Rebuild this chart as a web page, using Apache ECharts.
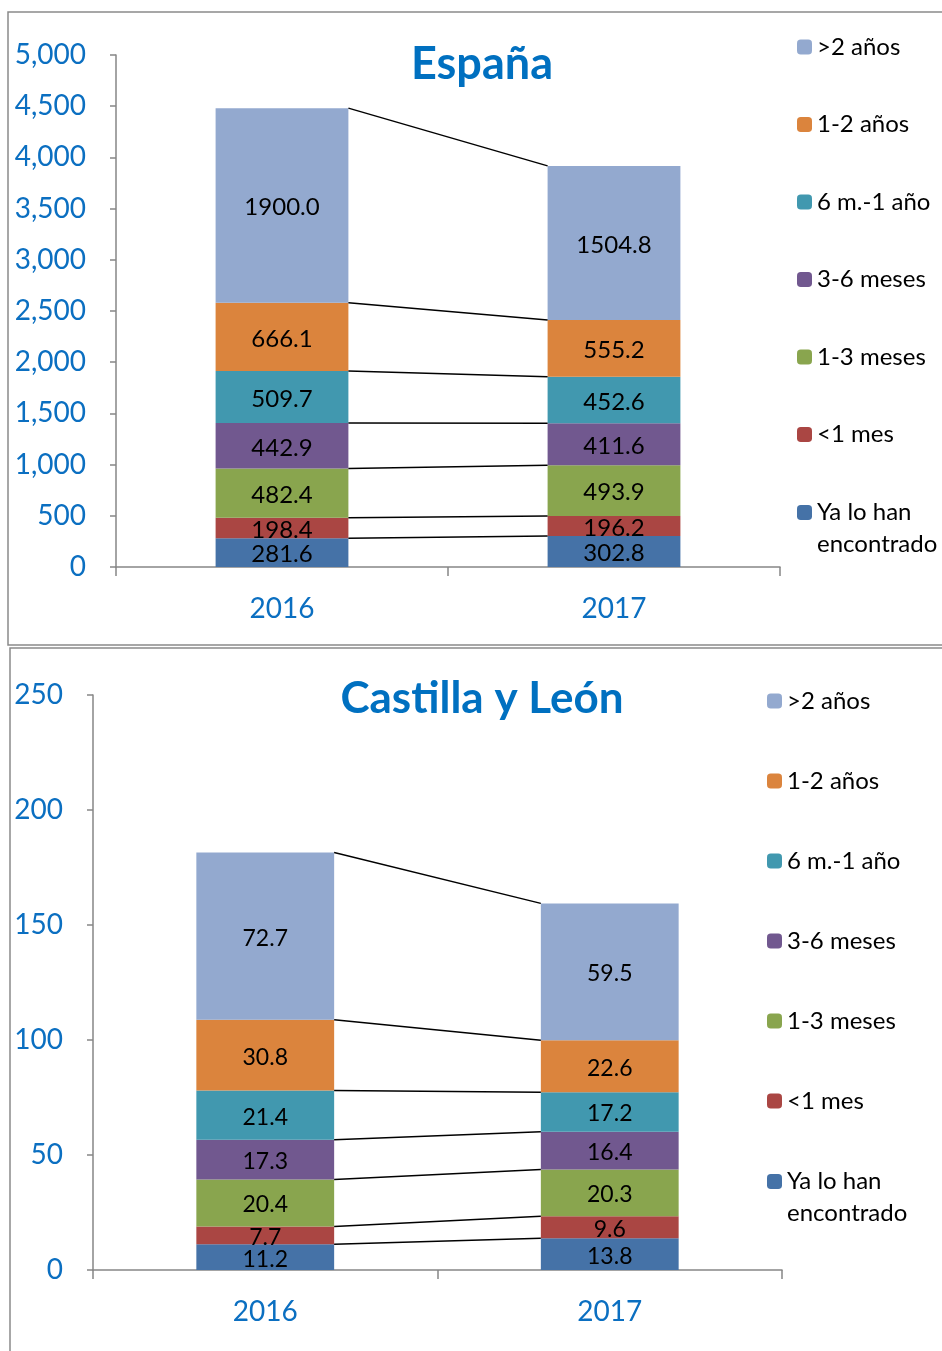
<!DOCTYPE html>
<html><head><meta charset="utf-8">
<script src="https://cdn.jsdelivr.net/npm/echarts@6/dist/echarts.min.js"></script>
<style>html,body{margin:0;padding:0;background:#fff;overflow:hidden}#c{width:942px;height:1351px}</style>
</head><body><div id="c"></div>
<script>
const years = ['2016', '2017'];
const seriesNames = ['Ya lo han encontrado', '<1 mes', '1-3 meses', '3-6 meses', '6 m.-1 año', '1-2 años', '>2 años'];
const seriesColors = ['#4572A7', '#AA4643', '#89A54E', '#71588F', '#4198AF', '#DB843D', '#93A9CF'];
const espana2016 = [281.6, 198.4, 482.4, 442.9, 509.7, 666.1, 1900.0];
const espana2017 = [302.8, 196.2, 493.9, 411.6, 452.6, 555.2, 1504.8];
const cyl2016 = [11.2, 7.7, 20.4, 17.3, 21.4, 30.8, 72.7];
const cyl2017 = [13.8, 9.6, 20.3, 16.4, 17.2, 22.6, 59.5];
const espanaAxis = { min: 0, max: 5000, interval: 500 };
const cylAxis = { min: 0, max: 250, interval: 50 };
const titles = ['España', 'Castilla y León'];

const FONT = 'Lato';
const BLUE = '#0B6FC1';
const AXIS = '#868686';

function barSeries(gi, a, b, fs) {
  return seriesNames.map((name, i) => ({
    type: 'bar', name, stack: 's' + gi, xAxisIndex: gi, yAxisIndex: gi,
    barWidth: '40%', data: [a[i], b[i]],
    itemStyle: { color: seriesColors[i] },
    label: { show: true, position: 'inside', offset: [0, 2], color: '#000', fontFamily: FONT, fontSize: fs,
      formatter: p => p.value.toFixed(1) }
  }));
}
function connectorSeries(gi, a, b) {
  let s0 = 0, s1 = 0;
  const data = a.map((v, i) => { s0 += v; s1 += b[i]; return [0, s0, s1]; });
  return {
    type: 'custom', xAxisIndex: gi, yAxisIndex: gi, data, encode: { x: 0, y: 1 }, silent: true, z: 5,
    renderItem: (params, api) => {
      const half = api.size([1, 0])[0] * 0.4 / 2;
      const p0 = api.coord([0, api.value(1)]);
      const p1 = api.coord([1, api.value(2)]);
      return { type: 'line', shape: { x1: p0[0] + half, y1: p0[1], x2: p1[0] - half, y2: p1[1] },
        style: { stroke: '#000', lineWidth: 1.5 } };
    }
  };
}
function xAxis(gi) {
  return { type: 'category', gridIndex: gi, data: years, boundaryGap: true,
    axisLine: { lineStyle: { color: AXIS, width: 1.5 } },
    axisTick: { show: true, length: 9, lineStyle: { color: AXIS, width: 1.5 } },
    axisLabel: { color: BLUE, fontFamily: FONT, fontSize: 28, margin: 28 } };
}
function yAxis(gi, ax, fmt) {
  return { type: 'value', gridIndex: gi, min: ax.min, max: ax.max, interval: ax.interval,
    axisLine: { show: true, lineStyle: { color: AXIS, width: 1.5 } },
    axisTick: { show: true, length: 6, lineStyle: { color: AXIS, width: 1.5 } },
    splitLine: { show: false },
    axisLabel: { color: BLUE, fontFamily: FONT, fontSize: 28, margin: 30, formatter: fmt } };
}
function legend(left, top, gap) {
  return { orient: 'vertical', left, top, padding: 0, itemWidth: 15, itemHeight: 15, itemGap: gap,
    selectedMode: false, data: seriesNames.slice().reverse(),
    textStyle: { fontFamily: FONT, fontSize: 24, color: '#000', lineHeight: 64,
      rich: { b: { fontFamily: FONT, fontSize: 24, color: '#000', lineHeight: 1 } } },
    formatter: n => n === 'Ya lo han encontrado' ? 'Ya lo han\n{b|encontrado}' : n };
}

const chart = echarts.init(document.getElementById('c'), null, { renderer: 'canvas' });
chart.setOption({
  animation: false,
  color: seriesColors,
  title: [
    { text: titles[0], left: 477, top: 37, textAlign: 'center',
      textStyle: { color: '#0070C0', fontFamily: FONT, fontWeight: 'bold', fontSize: 45 } },
    { text: titles[1], left: 477, top: 672, textAlign: 'center',
      textStyle: { color: '#0070C0', fontFamily: FONT, fontWeight: 'bold', fontSize: 44 } }
  ],
  legend: [legend(797, 15, 13.5), legend(767, 669, 16)],
  grid: [
    { left: 116, right: 162, top: 55, bottom: 784, containLabel: false },
    { left: 93, right: 160, top: 695, bottom: 81, containLabel: false }
  ],
  xAxis: [xAxis(0), xAxis(1)],
  yAxis: [
    yAxis(0, espanaAxis, v => v.toLocaleString('en-US')),
    yAxis(1, cylAxis, v => String(v))
  ],
  graphic: [
    { type: 'rect', shape: { x: 8, y: 12, width: 1000, height: 633 }, style: { fill: 'none', stroke: '#8a8a8a', lineWidth: 1.5 }, silent: true, z: -1 },
    { type: 'rect', shape: { x: 10, y: 648, width: 1000, height: 800 }, style: { fill: 'none', stroke: '#8a8a8a', lineWidth: 1.5 }, silent: true, z: -1 }
  ],
  series: [
    ...barSeries(0, espana2016, espana2017, 24),
    connectorSeries(0, espana2016, espana2017),
    ...barSeries(1, cyl2016, cyl2017, 23),
    connectorSeries(1, cyl2016, cyl2017)
  ]
});
</script></body></html>
